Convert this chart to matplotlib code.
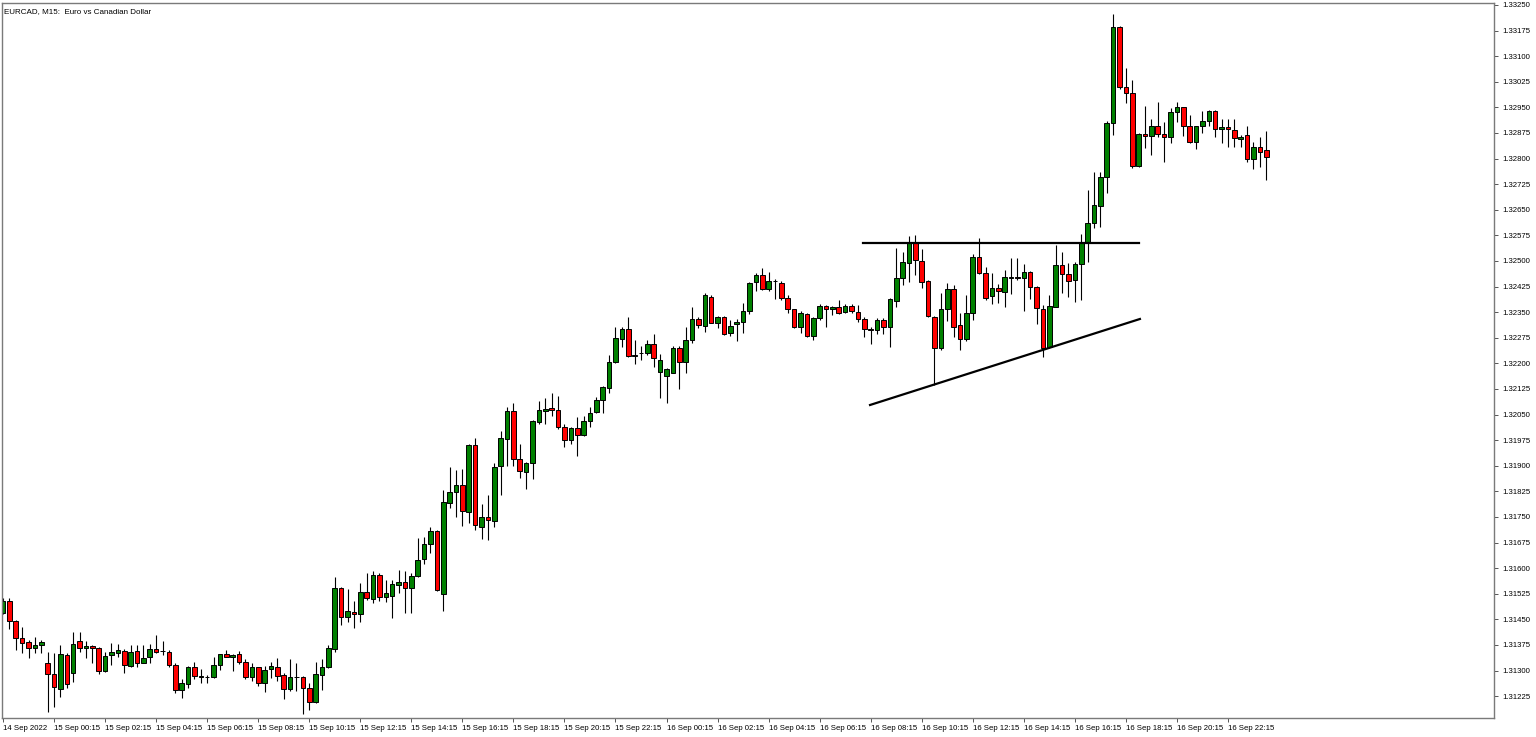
import numpy as np
import pandas as pd
import matplotlib
matplotlib.use("Agg")
import matplotlib.pyplot as plt

# EURCAD M15 bars, 14 Sep 2022 22:15 -> 16 Sep 2022 23:45
opens = [1.31469, 1.31505, 1.31445, 1.31396, 1.31383, 1.31365, 1.31375, 1.31321, 1.31289, 1.31245,
         1.31345, 1.31292, 1.31387, 1.31365, 1.31373, 1.31367, 1.31299, 1.31346, 1.31350, 1.31358,
         1.31314, 1.31357, 1.31323, 1.31339, 1.31363, 1.31357, 1.31353, 1.31316, 1.31243, 1.31261,
         1.31311, 1.31282, 1.31280, 1.31280, 1.31315, 1.31347, 1.31340, 1.31347, 1.31326, 1.31282,
         1.31309, 1.31264, 1.31304, 1.31311, 1.31288, 1.31245, 1.31280, 1.31282, 1.31248, 1.31209,
         1.31287, 1.31309, 1.31363, 1.31541, 1.31458, 1.31471, 1.31465, 1.31529, 1.31509, 1.31580,
         1.31516, 1.31518, 1.31551, 1.31560, 1.31541, 1.31578, 1.31626, 1.31671, 1.31709, 1.31523,
         1.31790, 1.31824, 1.31843, 1.31765, 1.31961, 1.31721, 1.31749, 1.31738, 1.31900, 1.31978,
         1.32061, 1.31920, 1.31883, 1.31907, 1.32029, 1.32060, 1.32068, 1.32063, 1.32014, 1.31975,
         1.32010, 1.31990, 1.32032, 1.32058, 1.32093, 1.32129, 1.32203, 1.32270, 1.32300, 1.32222,
         1.32229, 1.32229, 1.32256, 1.32176, 1.32164, 1.32173, 1.32246, 1.32203, 1.32268, 1.32329,
         1.32310, 1.32395, 1.32319, 1.32335, 1.32290, 1.32314, 1.32320, 1.32354, 1.32439, 1.32459,
         1.32417, 1.32441, 1.32436, 1.32392, 1.32359, 1.32306, 1.32344, 1.32281, 1.32332, 1.32368,
         1.32359, 1.32366, 1.32351, 1.32368, 1.32351, 1.32329, 1.32301, 1.32298, 1.32327, 1.32307,
         1.32384, 1.32451, 1.32493, 1.32552, 1.32501, 1.32441, 1.32337, 1.32244, 1.32359, 1.32417,
         1.32312, 1.32271, 1.32347, 1.32511, 1.32466, 1.32398, 1.32420, 1.32408, 1.32451, 1.32452,
         1.32449, 1.32469, 1.32425, 1.32359, 1.32247, 1.32366, 1.32488, 1.32461, 1.32444, 1.32490,
         1.32556, 1.32610, 1.32662, 1.32745, 1.32905, 1.33185, 1.33011, 1.32991, 1.32778, 1.32872,
         1.32867, 1.32895, 1.32872, 1.32862, 1.32936, 1.32950, 1.32895, 1.32848, 1.32895, 1.32911,
         1.32940, 1.32886, 1.32892, 1.32884, 1.32857, 1.32869, 1.32798, 1.32835, 1.32825]

highs = [1.31512, 1.31512, 1.31448, 1.31428, 1.31389, 1.31399, 1.31389, 1.31355, 1.31350, 1.31375,
         1.31350, 1.31414, 1.31414, 1.31386, 1.31375, 1.31370, 1.31355, 1.31380, 1.31378, 1.31362,
         1.31375, 1.31375, 1.31375, 1.31378, 1.31404, 1.31386, 1.31360, 1.31321, 1.31274, 1.31313,
         1.31326, 1.31304, 1.31287, 1.31340, 1.31348, 1.31360, 1.31348, 1.31357, 1.31333, 1.31321,
         1.31311, 1.31313, 1.31326, 1.31336, 1.31292, 1.31334, 1.31321, 1.31284, 1.31264, 1.31326,
         1.31333, 1.31375, 1.31574, 1.31546, 1.31538, 1.31505, 1.31556, 1.31585, 1.31592, 1.31585,
         1.31565, 1.31565, 1.31595, 1.31592, 1.31585, 1.31687, 1.31690, 1.31720, 1.31712, 1.31829,
         1.31895, 1.31888, 1.31890, 1.31964, 1.31980, 1.31788, 1.31814, 1.31907, 1.32002, 1.32071,
         1.32085, 1.31964, 1.31910, 1.32034, 1.32090, 1.32098, 1.32114, 1.32105, 1.32022, 1.32014,
         1.32042, 1.32047, 1.32073, 1.32101, 1.32134, 1.32224, 1.32307, 1.32306, 1.32337, 1.32268,
         1.32251, 1.32268, 1.32286, 1.32227, 1.32186, 1.32251, 1.32251, 1.32307, 1.32364, 1.32335,
         1.32407, 1.32400, 1.32339, 1.32339, 1.32327, 1.32329, 1.32378, 1.32439, 1.32464, 1.32479,
         1.32469, 1.32446, 1.32441, 1.32400, 1.32359, 1.32353, 1.32347, 1.32335, 1.32374, 1.32371,
         1.32369, 1.32386, 1.32374, 1.32374, 1.32371, 1.32335, 1.32307, 1.32332, 1.32332, 1.32391,
         1.32537, 1.32527, 1.32574, 1.32576, 1.32535, 1.32443, 1.32339, 1.32405, 1.32435, 1.32430,
         1.32347, 1.32400, 1.32520, 1.32566, 1.32481, 1.32466, 1.32433, 1.32474, 1.32510, 1.32508,
         1.32490, 1.32471, 1.32427, 1.32371, 1.32400, 1.32547, 1.32527, 1.32493, 1.32496, 1.32579,
         1.32708, 1.32762, 1.32762, 1.32911, 1.33224, 1.33187, 1.33065, 1.33030, 1.32874, 1.32954,
         1.32915, 1.32967, 1.32908, 1.32947, 1.32967, 1.32951, 1.32928, 1.32896, 1.32939, 1.32942,
         1.32942, 1.32915, 1.32916, 1.32915, 1.32869, 1.32895, 1.32849, 1.32864, 1.32882]

lows = [1.31466, 1.31421, 1.31360, 1.31350, 1.31336, 1.31352, 1.31350, 1.31179, 1.31194, 1.31223,
        1.31248, 1.31267, 1.31355, 1.31336, 1.31321, 1.31290, 1.31296, 1.31316, 1.31339, 1.31294,
        1.31311, 1.31311, 1.31321, 1.31321, 1.31350, 1.31345, 1.31311, 1.31235, 1.31219, 1.31248,
        1.31275, 1.31263, 1.31264, 1.31277, 1.31301, 1.31339, 1.31299, 1.31319, 1.31274, 1.31270,
        1.31255, 1.31238, 1.31277, 1.31270, 1.31216, 1.31241, 1.31241, 1.31173, 1.31184, 1.31204,
        1.31243, 1.31307, 1.31354, 1.31433, 1.31443, 1.31424, 1.31441, 1.31507, 1.31497, 1.31504,
        1.31502, 1.31455, 1.31528, 1.31468, 1.31469, 1.31575, 1.31611, 1.31643, 1.31534, 1.31475,
        1.31775, 1.31751, 1.31723, 1.31731, 1.31712, 1.31684, 1.31682, 1.31720, 1.31814, 1.31900,
        1.31900, 1.31863, 1.31831, 1.31861, 1.32022, 1.32022, 1.32046, 1.32007, 1.31956, 1.31964,
        1.31929, 1.31987, 1.32013, 1.32054, 1.32054, 1.32112, 1.32200, 1.32247, 1.32219, 1.32198,
        1.32210, 1.32224, 1.32190, 1.32098, 1.32083, 1.32171, 1.32124, 1.32173, 1.32259, 1.32304,
        1.32291, 1.32317, 1.32303, 1.32283, 1.32280, 1.32266, 1.32290, 1.32345, 1.32413, 1.32415,
        1.32413, 1.32388, 1.32386, 1.32347, 1.32303, 1.32290, 1.32278, 1.32268, 1.32327, 1.32307,
        1.32342, 1.32345, 1.32347, 1.32348, 1.32322, 1.32278, 1.32256, 1.32286, 1.32286, 1.32247,
        1.32364, 1.32430, 1.32438, 1.32459, 1.32420, 1.32335, 1.32137, 1.32239, 1.32325, 1.32278,
        1.32239, 1.32266, 1.32327, 1.32462, 1.32386, 1.32374, 1.32378, 1.32364, 1.32403, 1.32444,
        1.32354, 1.32388, 1.32315, 1.32219, 1.32244, 1.32364, 1.32405, 1.32395, 1.32381, 1.32386,
        1.32497, 1.32596, 1.32600, 1.32700, 1.32869, 1.33003, 1.32964, 1.32772, 1.32776, 1.32830,
        1.32810, 1.32864, 1.32791, 1.32847, 1.32908, 1.32866, 1.32847, 1.32827, 1.32876, 1.32895,
        1.32864, 1.32847, 1.32835, 1.32835, 1.32835, 1.32791, 1.32769, 1.32776, 1.32737]

closes = [1.31505, 1.31445, 1.31396, 1.31380, 1.31365, 1.31375, 1.31384, 1.31289, 1.31253, 1.31348,
          1.31261, 1.31378, 1.31365, 1.31373, 1.31365, 1.31299, 1.31342, 1.31354, 1.31359, 1.31316,
          1.31354, 1.31323, 1.31338, 1.31363, 1.31355, 1.31356, 1.31316, 1.31243, 1.31263, 1.31311,
          1.31285, 1.31283, 1.31281, 1.31315, 1.31347, 1.31340, 1.31345, 1.31326, 1.31282, 1.31309,
          1.31264, 1.31301, 1.31313, 1.31285, 1.31245, 1.31282, 1.31281, 1.31248, 1.31209, 1.31289,
          1.31309, 1.31365, 1.31542, 1.31458, 1.31474, 1.31465, 1.31531, 1.31512, 1.31580, 1.31516,
          1.31526, 1.31553, 1.31560, 1.31541, 1.31578, 1.31624, 1.31671, 1.31709, 1.31536, 1.31793,
          1.31824, 1.31843, 1.31767, 1.31961, 1.31726, 1.31751, 1.31741, 1.31897, 1.31980, 1.32061,
          1.31919, 1.31885, 1.31909, 1.32031, 1.32063, 1.32066, 1.32063, 1.32013, 1.31975, 1.32010,
          1.31990, 1.32031, 1.32055, 1.32093, 1.32130, 1.32205, 1.32273, 1.32301, 1.32222, 1.32224,
          1.32230, 1.32256, 1.32217, 1.32210, 1.32183, 1.32244, 1.32205, 1.32268, 1.32329, 1.32312,
          1.32400, 1.32319, 1.32335, 1.32286, 1.32310, 1.32320, 1.32354, 1.32436, 1.32459, 1.32417,
          1.32442, 1.32440, 1.32391, 1.32359, 1.32306, 1.32347, 1.32281, 1.32334, 1.32369, 1.32359,
          1.32366, 1.32348, 1.32368, 1.32353, 1.32329, 1.32301, 1.32299, 1.32327, 1.32307, 1.32389,
          1.32449, 1.32496, 1.32552, 1.32503, 1.32439, 1.32339, 1.32244, 1.32359, 1.32417, 1.32307,
          1.32271, 1.32347, 1.32511, 1.32464, 1.32391, 1.32420, 1.32412, 1.32452, 1.32452, 1.32451,
          1.32469, 1.32423, 1.32361, 1.32244, 1.32368, 1.32488, 1.32461, 1.32442, 1.32490, 1.32556,
          1.32612, 1.32664, 1.32745, 1.32905, 1.33185, 1.33009, 1.32991, 1.32778, 1.32872, 1.32867,
          1.32896, 1.32871, 1.32862, 1.32936, 1.32950, 1.32895, 1.32848, 1.32895, 1.32911, 1.32940,
          1.32886, 1.32893, 1.32886, 1.32859, 1.32864, 1.32798, 1.32835, 1.32820, 1.32804]

start_time = "2022-09-14 22:15"
title = "EURCAD, M15:  Euro vs Canadian Dollar"

# hand-drawn lines (bar index, price)
resistance = ([134.8, 178.1], [1.32553, 1.32553])
support = ([135.9, 178.2], [1.32078, 1.32330])

price_ticks = np.round(np.arange(1.31225, 1.332501, 0.00075), 5)

o = np.array(opens)
h = np.array(highs)
l = np.array(lows)
c = np.array(closes)
x = np.arange(len(o))
times = pd.date_range(start_time, periods=len(o), freq="15min")

plt.rcParams["font.family"] = ["Liberation Sans", "DejaVu Sans"]

fig = plt.figure(figsize=(15.36, 7.37), dpi=100)
ax = fig.add_axes([2 / 1536, 19 / 737, 1492 / 1536, 715 / 737])

up = c >= o
ax.vlines(x, l, h, color="black", lw=0.8, zorder=1)
body_low = np.minimum(o, c)
body_h = np.maximum(np.abs(c - o), 0.000012)
ax.bar(x[up], body_h[up], bottom=body_low[up], width=0.72,
       color="#008000", edgecolor="black", lw=0.7, zorder=2)
ax.bar(x[~up], body_h[~up], bottom=body_low[~up], width=0.72,
       color="#ff0000", edgecolor="black", lw=0.7, zorder=2)

ax.plot(*resistance, color="black", lw=1.6, zorder=3)
ax.plot(*support, color="black", lw=1.6, zorder=3)

ax.set_xlim(-0.16, 233.7)
ax.set_ylim(1.311609, 1.332558)

ax.yaxis.tick_right()
ax.set_yticks(price_ticks)
ax.set_yticklabels(["%.5f" % p for p in price_ticks])

tick_idx = [0] + list(range(8, len(o), 8))
tick_lbl = ["14 Sep 2022"] + [times[i].strftime("%d Sep %H:%M").lstrip("0") for i in tick_idx[1:]]
ax.set_xticks(tick_idx)
ax.set_xticklabels(tick_lbl)
for t in ax.get_xticklabels():
    t.set_horizontalalignment("left")

ax.tick_params(axis="both", direction="out", length=3, width=0.7,
               color="#555555", labelsize=5.6, pad=2)
ax.tick_params(axis="y", pad=3)

for s in ax.spines.values():
    s.set_color("#7a7a7a")
    s.set_linewidth(1.0)

ax.text(0.0015, 0.9925, title, transform=ax.transAxes, fontsize=5.8,
        ha="left", va="top", color="black")

fig.savefig("out.png", dpi=100)
